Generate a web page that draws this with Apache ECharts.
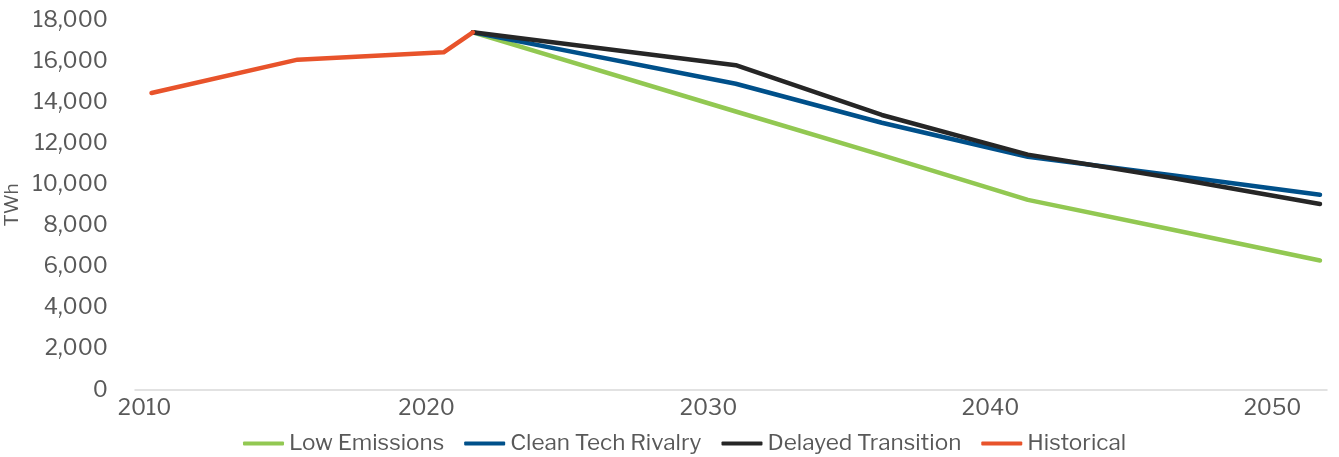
<!DOCTYPE html>
<html>
<head>
<meta charset="utf-8">
<script src="https://cdn.jsdelivr.net/npm/echarts@6/dist/echarts.min.js"></script>
<style>
  html, body { margin: 0; padding: 0; background: #ffffff; }
  #chart { width: 1339px; height: 457px; }
</style>
</head>
<body>
<div id="chart"></div>
<script>
// ---- data ----
const historicalYears = [2010, 2015, 2020, 2021];
const historical = [14450, 16070, 16430, 17400];
const scenarioYears = [2021, 2030, 2035, 2040, 2045, 2050];
const lowEmissions = [17400, 13550, 11430, 9250, 7780, 6300];
const cleanTechRivalry = [17400, 14900, 13000, 11350, 10430, 9500];
const delayedTransition = [17400, 15800, 13380, 11450, 10300, 9050];
const xTickLabels = [2010, 2020, 2030, 2040, 2050];
const yTicks = [0, 2000, 4000, 6000, 8000, 10000, 12000, 14000, 16000, 18000];
const seriesNames = ['Low Emissions', 'Clean Tech Rivalry', 'Delayed Transition', 'Historical'];

// ---- styling ----
const colors = ['#92C852', '#00508A', '#262626', '#E8532B'];
const textColor = '#595959';
const fontFamily = '"Libre Franklin", "Liberation Sans", Arial, sans-serif';

function pairs(xs, ys) { return xs.map((x, i) => [x, ys[i]]); }

const chart = echarts.init(document.getElementById('chart'), null, { renderer: 'canvas' });

const lineSeries = (name, xs, ys, color, z) => ({
  name: name,
  type: 'line',
  xAxisIndex: 1,
  yAxisIndex: 0,
  data: pairs(xs, ys),
  showSymbol: false,
  symbol: 'none',
  lineStyle: { color: color, width: 4.5, cap: 'round', join: 'round' },
  itemStyle: { color: color },
  z: z,
  animation: false
});

chart.setOption({
  animation: false,
  backgroundColor: '#ffffff',
  grid: { left: 135, right: 12, top: 20, bottom: 67, containLabel: false, outerBoundsMode: 'none' },
  legend: {
    data: seriesNames,
    left: 238,
    top: 427,
    icon: 'roundRect',
    itemWidth: 41,
    itemHeight: 4,
    itemGap: 20,
    textStyle: { color: textColor, fontSize: 22.5, fontFamily: fontFamily },
    selectedMode: false
  },
  xAxis: [
    {
      type: 'value',
      min: 2009.66,
      max: 2051.93,
      axisLine: { show: true, lineStyle: { color: '#D9D9D9', width: 1.5 } },
      axisTick: { show: false },
      splitLine: { show: false },
      axisLabel: {
        customValues: xTickLabels,
        color: textColor,
        fontSize: 22,
        fontFamily: fontFamily,
        margin: 7,
        formatter: v => String(v)
      }
    },
    {
      type: 'value',
      show: false,
      min: 2009.435,
      max: 2050.24,
      splitLine: { show: false }
    }
  ],
  yAxis: {
    type: 'value',
    min: yTicks[0],
    max: yTicks[yTicks.length - 1],
    interval: 2000,
    name: 'TWh',
    nameLocation: 'middle',
    nameGap: 104,
    nameRotate: 90,
    nameTextStyle: { color: textColor, fontSize: 19, fontFamily: fontFamily },
    axisLine: { show: false },
    axisTick: { show: false },
    splitLine: { show: false },
    axisLabel: {
      color: textColor,
      fontSize: 22,
      fontFamily: fontFamily,
      margin: 27,
      formatter: v => v.toLocaleString('en-US')
    }
  },
  series: [
    lineSeries(seriesNames[0], scenarioYears, lowEmissions, colors[0], 2),
    lineSeries(seriesNames[1], scenarioYears, cleanTechRivalry, colors[1], 3),
    lineSeries(seriesNames[2], scenarioYears, delayedTransition, colors[2], 4),
    lineSeries(seriesNames[3], historicalYears, historical, colors[3], 5)
  ]
});
</script>
</body>
</html>
